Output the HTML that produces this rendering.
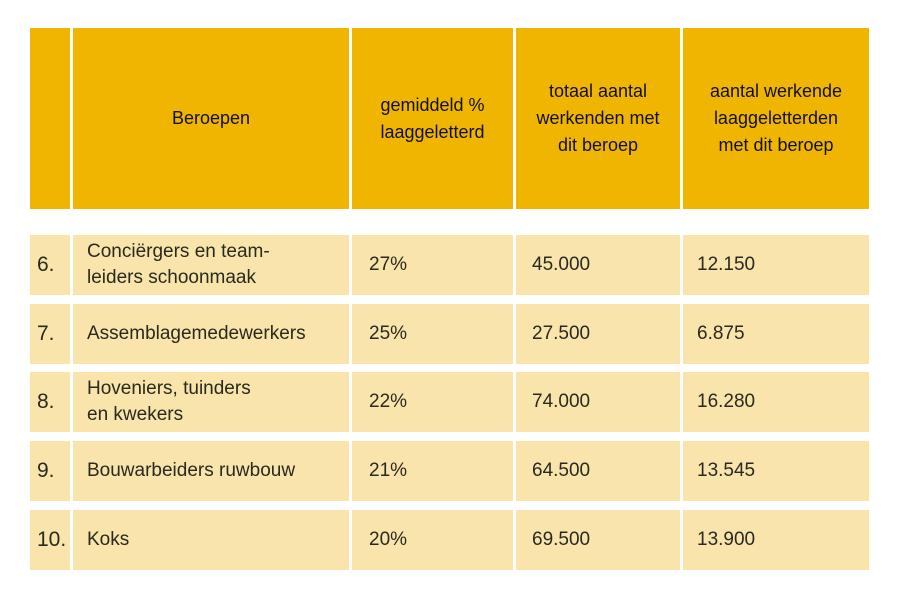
<!DOCTYPE html>
<html><head><meta charset="utf-8"><style>
body{margin:0;width:899px;height:600px;background:#fff;position:relative;overflow:hidden;font-family:"Liberation Sans",sans-serif;color:#1f1d17}
.c{position:absolute;box-sizing:border-box;display:flex;align-items:center}
.h{background:#efb500;font-size:18px;justify-content:center;text-align:center;line-height:27px;color:#111}
.r{background:#f9e5ab;font-size:19px;line-height:26px;color:#2a281f}
.n{font-size:21px}
</style></head><body>
<div id="t"></div>
<script>
const numbers=["6.","7.","8.","9.","10."];
const jobs=["Conciërgers en team-<br>leiders schoonmaak","Assemblagemedewerkers","Hoveniers, tuinders<br>en kwekers","Bouwarbeiders ruwbouw","Koks"];
const pct=["27%","25%","22%","21%","20%"];
const totals=["45.000","27.500","74.000","64.500","69.500"];
const lowLit=["12.150","6.875","16.280","13.545","13.900"];
const headers=["","Beroepen","gemiddeld %<br>laaggeletterd","totaal aantal<br>werkenden met<br>dit beroep","aantal werkende<br>laaggeletterden<br>met dit beroep"];
const cx=[30,73,352,516,683],cw=[40,276,161,164,186];
const t=document.getElementById('t');
function cell(cls,x,y,w,h,html,pad,name){const d=document.createElement('div');d.className='c '+cls;
d.style.cssText=`left:${x}px;top:${y}px;width:${w}px;height:${h}px;padding-left:${pad}px`;d.innerHTML=html;


t.appendChild(d);}
headers.forEach((h,i)=>cell('h',cx[i],28,cw[i],181,h,0,'header-cell-'+i));
const rowY=[235,304,372,441,510];
const cols=[numbers,jobs,pct,totals,lowLit];
const pads=[7,14,17,16,14];
rowY.forEach((y,r)=>cols.forEach((col,i)=>cell(i===0?'r n':'r',cx[i],y,cw[i],60,col[r],pads[i],'row-'+numbers[r].replace('.','')+'-col-'+i)));
</script>
</body></html>
